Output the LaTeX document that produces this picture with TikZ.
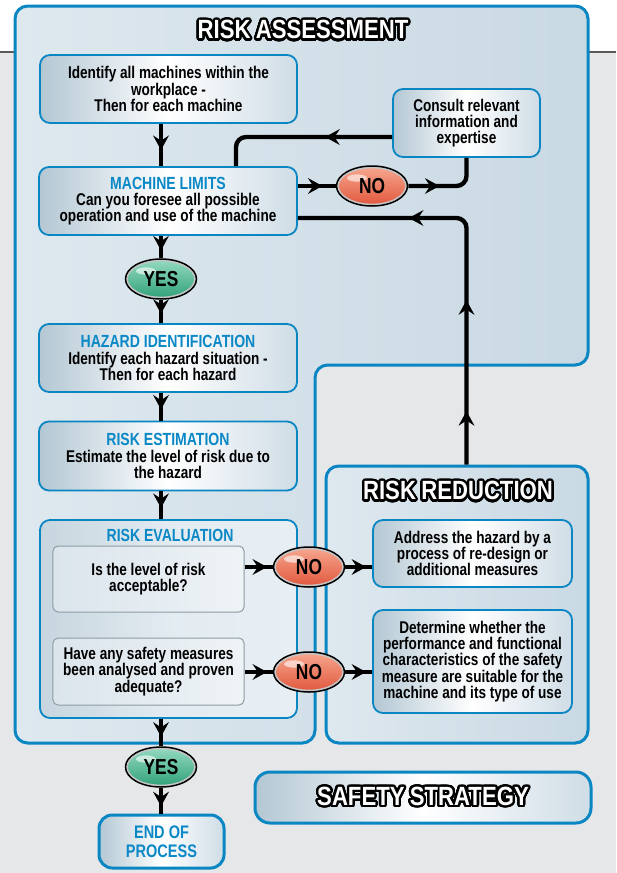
\documentclass[tikz,border=0pt]{standalone}
\usepackage{fontspec}
\setmainfont{Liberation Sans}[FakeStretch=0.8]
\newfontfamily\titlefont{Liberation Sans}[FakeStretch=0.84]
\usepackage[copies]{contour}
\contourlength{2pt}
\contournumber{32}
\usetikzlibrary{arrows.meta, positioning, calc, shapes.geometric, decorations.markings}
\definecolor{HSEBlue}{HTML}{0A86C2}
\definecolor{HeadBlue}{HTML}{0B88C6}
\definecolor{PageGrey}{HTML}{E6E7E9}
\definecolor{PanelLight}{HTML}{DEE8EF}
\definecolor{PanelDark}{HTML}{C9D9E3}
\definecolor{BoxDark}{HTML}{B3C7D3}
\definecolor{BoxRight}{HTML}{CFDDE6}
\definecolor{InnerLeft}{HTML}{DBE5EC}
\definecolor{InnerRight}{HTML}{EEF3F6}
\definecolor{InnerEdge}{HTML}{8E9CA5}
\definecolor{NoTop}{HTML}{F7A890}
\definecolor{NoBottom}{HTML}{E0563C}
\definecolor{YesTop}{HTML}{96DBC1}
\definecolor{YesBottom}{HTML}{2E9F78}
\newcommand\boxfont{\fontsize{14.5}{13.8}\selectfont\bfseries}
\newcommand\headfont{\fontsize{15}{14}\selectfont\bfseries\color{HeadBlue}}
\newcommand\ovalfont{\fontsize{18.5}{18}\selectfont\bfseries}
\newcommand\bannerfont{\titlefont\fontsize{22.5}{22}\selectfont\bfseries}
\tikzset{
  panel/.style={draw=HSEBlue, line width=0.9mm, rounded corners=3.8mm, left color=PanelLight, right color=PanelDark},
  stepbox/.style={draw=HSEBlue, line width=0.55mm, rounded corners=3mm, left color=BoxDark, right color=BoxRight, middle color=white, align=center, inner sep=0.5mm, font=\boxfont},
  evalframe/.style={draw=HSEBlue, line width=0.55mm, rounded corners=3mm, left color=BoxDark!75, right color=PanelLight!70!white, middle color=PanelLight!85!white},
  askbox/.style={draw=InnerEdge, line width=0.3mm, rounded corners=1.5mm, left color=InnerLeft, right color=InnerRight, align=center, inner sep=0.5mm, font=\boxfont, minimum width=57.3mm},
  closebox/.style={draw=HSEBlue, line width=0.9mm, rounded corners=4mm, left color=BoxDark, right color=BoxRight, middle color=white, align=center, inner sep=0.5mm},
  banner/.style={text=white, font=\bannerfont, inner sep=0pt},
  oval/.style={ellipse, draw=black, line width=0.45mm, minimum width=21.3mm, minimum height=12mm, inner sep=0pt, font=\ovalfont,
    path picture={
      \draw[gray!45, line width=1.4mm] (path picture bounding box.center) ellipse (10.65mm and 6mm);
      \fill[white, opacity=0.6] ([xshift=-4.5mm, yshift=2.4mm]path picture bounding box.center) ellipse (3mm and 1.1mm);
    }},
  noball/.style={oval, top color=NoTop, bottom color=NoBottom},
  yesball/.style={oval, top color=YesTop, bottom color=YesBottom},
  flowtip/.tip={Stealth[length=4.4mm, width=4.8mm, inset=1.6mm, line width=0pt]},
  flow/.style={line width=1.3mm},
  arrowat/.style={postaction={decorate}, decoration={markings, mark=at position #1 with {\arrow{flowtip}}}}
}

\begin{document}
\begin{tikzpicture}[x=0.3mm, y=-0.3mm]
% page
\useasboundingbox (0,0) rectangle (616,873);
\fill[white] (0,0) rectangle (616,873);
\fill[PageGrey] (0,52) rectangle (616,873);
\draw[line width=0.45mm, black!65] (0,52) -- (616,52);

% panels
\draw[panel] (300,6) -- (588,6) -- (588,365) -- (315,365) -- (315,743) -- (15,743) -- (15,6) -- cycle;
\node[panel, minimum width=78.6mm, minimum height=83.1mm] (redpanel) at (457,604.5) {};
\node[banner] (asstitle) at (303,31) {\contour{black}{RISK\hspace{0.2em}ASSESSMENT}};
\node[banner] (redtitle) at (458,492) {\contour{black}{RISK\hspace{0.2em}REDUCTION}};

% left column
\node[stepbox, minimum width=77.1mm, minimum height=20.4mm] (ident) at (168.5,89) {Identify all machines within the\\workplace -\\Then for each machine};
\node[stepbox, minimum width=44.1mm, minimum height=20.4mm] (consult) at (466.5,123) {Consult relevant\\information and\\expertise};
\node[stepbox, minimum width=77.4mm, minimum height=20.4mm] (limits) at (168,201) {{\headfont MACHINE LIMITS}\\Can you foresee all possible\\operation and use of the machine};
\node[noball] (noA) at (372,186) {NO};
\node[yesball] (yesA) at (161,279) {YES};
\node[stepbox, minimum width=77.4mm, minimum height=20.4mm] (hazard) at (168,358) {{\headfont HAZARD IDENTIFICATION}\\Identify each hazard situation -\\Then for each hazard};
\node[stepbox, minimum width=77.4mm, minimum height=20.7mm] (estim) at (168,456) {{\headfont RISK ESTIMATION}\\Estimate the level of risk due to\\the hazard};

% evaluation
\node[evalframe, minimum width=77.1mm, minimum height=59.4mm] (evalbox) at (168.5,619) {};
\node[font=\headfont] (evaltitle) at (170,535) {RISK EVALUATION};
\node[askbox, minimum height=19.8mm] (askA) at (148.5,579) {Is the level of risk\\acceptable?};
\node[askbox, minimum height=20.1mm] (askB) at (148.5,671.5) {Have any safety measures\\been analysed and proven\\adequate?};
\node[noball] (noB) at (309,567) {NO};
\node[noball] (noC) at (309,672) {NO};

% reduction
\node[stepbox, minimum width=59.7mm, minimum height=20.1mm] (address) at (472.5,553.5) {Address the hazard by a\\process of re-design or\\additional measures};
\node[stepbox, minimum width=59.7mm, minimum height=30.9mm] (determine) at (472.5,661.5) {Determine whether the\\performance and functional\\characteristics of the safety\\measure are suitable for the\\machine and its type of use};

% end
\node[yesball] (yesB) at (161,767) {YES};
\node[closebox, font=\headfont\fontsize{15.5}{16.5}\selectfont, minimum width=37.5mm, minimum height=15.9mm] (finish) at (161.5,841.5) {END OF\\PROCESS};
\node[closebox, minimum width=100.8mm, minimum height=15.3mm, rounded corners=4.5mm, font=\bannerfont, text=white] (strategy) at (423,797.5) {\contour{black}{SAFETY\hspace{0.2em}STRATEGY}};

% connectors
\coordinate (loopx) at (236,0);
\draw[flow, arrowat=0.62] (ident.south -| yesA) -- (limits.north -| yesA);
\draw[flow, arrowat=0.65] (limits.south -| yesA) -- (yesA.north);
\draw[flow, arrowat=0.6] (yesA.south) -- (hazard.north -| yesA);
\draw[flow, arrowat=0.6] (hazard.south -| yesA) -- (estim.north -| yesA);
\draw[flow, arrowat=0.6] (estim.south -| yesA) -- (evalbox.north -| yesA);
\draw[flow, arrowat=0.65] (evalbox.south -| yesB) -- (yesB.north);
\draw[flow, arrowat=0.72] (yesB.south) -- (finish.north -| yesB);
\draw[flow, arrowat=0.65] (limits.east |- noA) -- (noA.west);
\draw[flow, rounded corners=3mm, arrowat=0.38] (noA.east) -| (consult.south);
\draw[flow, rounded corners=3mm, arrowat=0.37] ([yshift=-4.2mm]consult.west) -| (limits.north -| loopx);
\draw[flow, rounded corners=3mm, postaction={decorate},
  decoration={markings, mark=at position 0.13 with {\arrow{flowtip}}, mark=at position 0.4 with {\arrow{flowtip}}, mark=at position 0.73 with {\arrow{flowtip}}}]
  (redpanel.north -| consult.south) |- ([yshift=-5.1mm]limits.east);
\draw[flow, arrowat=0.8] (askA.east |- noB) -- (noB.west);
\draw[flow, arrowat=0.78] (noB.east) -- (address.west |- noB);
\draw[flow, arrowat=0.8] (askB.east |- noC) -- (noC.west);
\draw[flow, arrowat=0.78] (noC.east) -- (determine.west |- noC);
\end{tikzpicture}
\end{document}
